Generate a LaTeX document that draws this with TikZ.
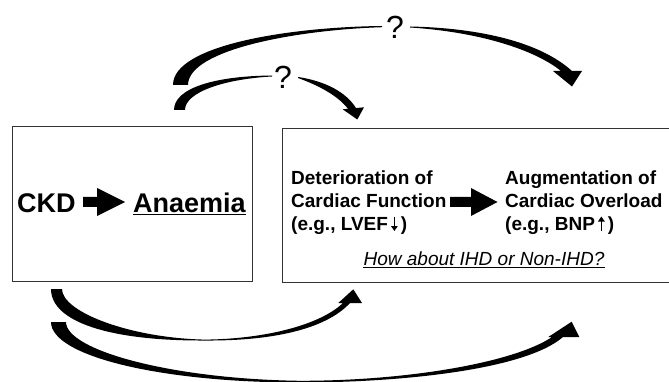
\documentclass[tikz,border=0pt]{standalone}
\usepackage{fontspec}
\setmainfont{Liberation Sans}
\usetikzlibrary{arrows.meta}
\newcommand{\myDown}{\tikz[baseline=0pt]\draw[line width=1.5pt,-{Triangle[length=5pt,width=6.5pt]}] (0,13.5pt) -- (0,-1pt);}
\newcommand{\myUp}{\tikz[baseline=0pt]\draw[line width=1.5pt,-{Triangle[length=5pt,width=6.5pt]}] (0,-1pt) -- (0,13.5pt);}
\tikzset{
  bigtxt/.style={font=\fontsize{27}{30}\selectfont\bfseries, inner sep=0pt, anchor=base west},
  medtxt/.style={font=\fontsize{19}{22}\selectfont\bfseries, inner sep=0pt, anchor=base west},
  itxt/.style={font=\fontsize{19}{22}\selectfont\itshape, inner sep=0pt, anchor=base},
  qmark/.style={font=\fontsize{32}{36}\selectfont, inner sep=0pt},
  boxline/.style={draw=black!80, line width=1.3pt, anchor=north west, inner sep=0pt},
  tube/.style={fill=black, draw=none},
  uline/.style={draw=black, line cap=butt},
}
\begin{document}
\begin{tikzpicture}[x=1pt,y=-1pt]
\useasboundingbox (0,0) rectangle (669,382);
\clip (0,0) rectangle (669,382);
% boxes
\node[boxline, minimum width=240pt, minimum height=155pt] (leftbox) at (12,126) {};
\node[boxline, minimum width=400pt, minimum height=154pt] (rightbox) at (282,128) {};
% left box content
\node[bigtxt] (ckd) at (17,212) {CKD};
\node[bigtxt] (anaemia) at (133,212) {Anaemia};
\draw[uline, line width=1.6pt] ([yshift=-2.7pt]anaemia.base west) -- ([yshift=-2.7pt]anaemia.base east);
\fill[tube] (83,197) -- (97,197) -- (97,188) -- (125,202) -- (97,216) -- (97,207) -- (83,207) -- cycle;
% right box content
\node[medtxt] (d1) at (291,185) {Deterioration of};
\node[medtxt] (d2) at (291,207.5) {Cardiac Function};
\node[medtxt] (d3) at (291,230) {(e.g., LVEF\,\myDown\,)};
\node[medtxt] (a1) at (505,185) {Augmentation of};
\node[medtxt] (a2) at (505,207.5) {Cardiac Overload};
\node[medtxt] (a3) at (505,230) {(e.g., BNP\,\myUp\,)};
\fill[tube] (450,197) -- (471,197) -- (471,188) -- (497.5,202) -- (471,216) -- (471,207) -- (450,207) -- cycle;
\node[itxt] (how) at (484,265) {How about IHD or Non-IHD?};
\draw[uline, line width=0.9pt] ([yshift=-2pt]how.base west) -- ([yshift=-2pt]how.base east);
% question marks
\node[qmark] (q1) at (395,27) {?};
\node[qmark] (q2) at (283,77) {?};
% top outer arrow
\fill[tube] (173,85) .. controls (173,45) and (290,27) .. (382,26) -- (382,27.2) .. controls (295,30) and (188,50) .. (188,85) -- cycle;
\fill[tube] (410,26.5) .. controls (480,28) and (540,42) .. (572,71) -- (582,71) -- (572,86.5) -- (553,71) -- (561,71) .. controls (535,50) and (480,32) .. (410,27.5) -- cycle;
% top inner arrow
\fill[tube] (174,110) .. controls (174,88) and (215,76) .. (272,75.5) -- (272,76.5) .. controls (225,79) and (185,92) .. (185,110) -- cycle;
\fill[tube] (298,77) .. controls (325,81) and (346,92) .. (356,108.05) -- (364,107.3) -- (357.3,119.5) -- (342.7,109.3) -- (348,108.8) .. controls (338,96) and (320,86) .. (298,78) -- cycle;
% bottom inner arrow
\fill[tube] (51,289) .. controls (51,322) and (110,341) .. (205,340.5) -- (205,339.6) .. controls (130,338) and (62,312) .. (62,289) -- cycle;
\fill[tube] (205,340.5) .. controls (270,341) and (325,330) .. (350,303) -- (362,303) -- (353.3,289.3) -- (338.3,303) -- (343,303) .. controls (320,325) and (265,339) .. (205,339.6) -- cycle;
% bottom outer arrow
\fill[tube] (51,322) .. controls (51,356) and (160,382.5) .. (300,382.5) -- (300,380.8) .. controls (170,379) and (66,350) .. (66,322) -- cycle;
\fill[tube] (300,382.5) .. controls (400,382.5) and (525,370) .. (563,337) -- (579.3,337) -- (571.7,321.7) -- (548.3,337) -- (552,337) .. controls (515,362) and (410,380.8) .. (300,380.8) -- cycle;
\end{tikzpicture}
\end{document}
